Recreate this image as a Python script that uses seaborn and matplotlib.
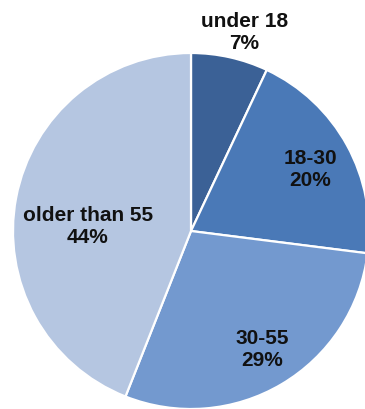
import matplotlib
matplotlib.use("Agg")
import matplotlib.pyplot as plt
import seaborn as sns
import numpy as np

# Age groups and their shares (percent)
groups = ["under 18", "18-30", "30-55", "older than 55"]
shares = [7, 20, 29, 44]
colors = ["#3b6196", "#4a79b7", "#7399cf", "#b5c6e1"]

# Where each two-line label sits, in pie-radius units
label_pos = [(0.30, 1.12), (0.67, 0.35), (0.40, -0.66), (-0.58, 0.03)]

sns.set_theme(style="white")
plt.rcParams["font.family"] = ["Liberation Sans", "DejaVu Sans"]

fig = plt.figure(figsize=(3.65, 4.10), dpi=100)
ax = fig.add_axes([0, 0, 1, 1])

ax.pie(shares, colors=colors, startangle=90, counterclock=False,
       radius=1.0, center=(0, 0),
       wedgeprops=dict(edgecolor="white", linewidth=1.6))

for name, val, (x, y) in zip(groups, shares, label_pos):
    ax.text(x, y, f"{name}\n{val}%", ha="center", va="center",
            fontsize=15, fontweight="bold", color="#111111",
            linespacing=1.2)

ax.set_xlim(-191 / 178, (365 - 191) / 178)
ax.set_ylim(-178 / 178, 232 / 178)
ax.set_aspect("auto")
ax.axis("off")

fig.savefig("out.png", dpi=100, facecolor="white")
